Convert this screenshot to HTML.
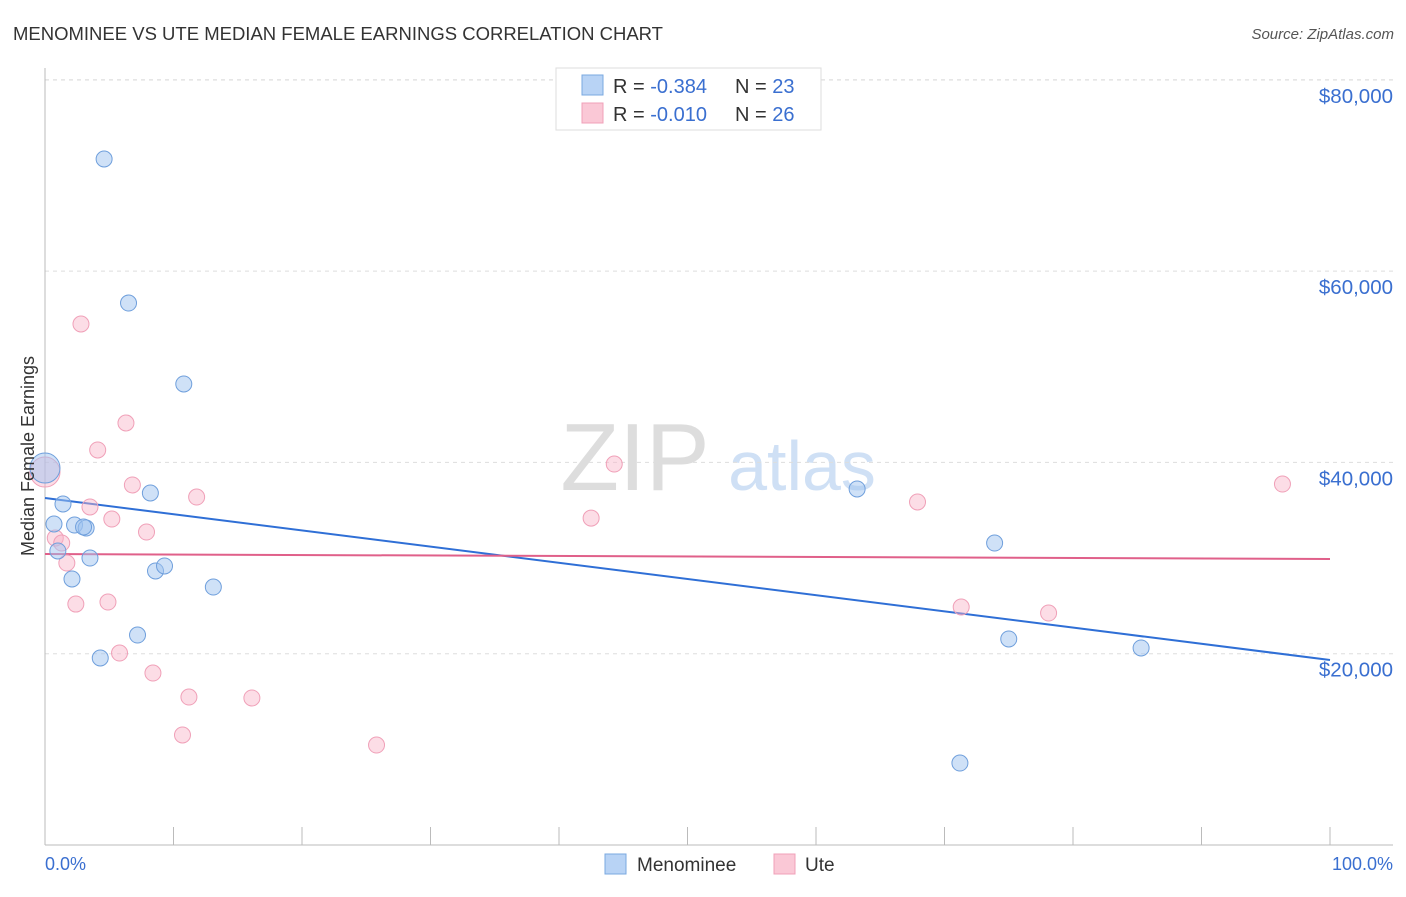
<!DOCTYPE html>
<html><head><meta charset="utf-8"><style>
body{margin:0;background:#fff;font-family:"Liberation Sans",sans-serif;}
svg text{font-family:"Liberation Sans",sans-serif;}
</style></head><body>
<svg id="chart" width="1406" height="892">
<text x="13" y="40" font-size="18.5" fill="#333">MENOMINEE VS UTE MEDIAN FEMALE EARNINGS CORRELATION CHART</text>
<text x="1394" y="39" font-size="15" fill="#555" font-style="italic" text-anchor="end">Source: ZipAtlas.com</text>
<g>
<text x="635" y="490" font-size="96" font-family="Liberation Serif" fill="#ddd" text-anchor="middle">ZIP</text>
<text x="802" y="490" font-size="70" fill="#cfe0f5" text-anchor="middle">atlas</text>
</g>
<g id="grid"></g>
<g id="axes"></g>
<g id="lines"></g>
<g id="points"></g>
<text transform="translate(34,456) rotate(-90)" font-size="18" fill="#333" text-anchor="middle">Median Female Earnings</text>
<text x="45" y="870" font-size="18" fill="#3a6fd0">0.0%</text>
<text x="1393" y="870" font-size="18" fill="#3a6fd0" text-anchor="end">100.0%</text>
<g>
<rect x="556" y="68" width="265" height="62" fill="#fff" stroke="#ddd"/>
<rect x="582" y="75" width="21" height="20" fill="#b8d3f5" stroke="#7aa8e0"/>
<rect x="582" y="103" width="21" height="20" fill="#fac8d6" stroke="#f0a0b8"/>
<text x="613" y="93" font-size="20" fill="#333">R = <tspan fill="#3a6fd0">-0.384</tspan><tspan x="735">N = </tspan><tspan fill="#3a6fd0">23</tspan></text>
<text x="613" y="121" font-size="20" fill="#333">R = <tspan fill="#3a6fd0">-0.010</tspan><tspan x="735">N = </tspan><tspan fill="#3a6fd0">26</tspan></text>
</g>
<g>
<rect x="605" y="854" width="21" height="20" fill="#b8d3f5" stroke="#7aa8e0"/>
<text x="637" y="871" font-size="19" fill="#333">Menominee</text>
<rect x="774" y="854" width="21" height="20" fill="#fac8d6" stroke="#f0a0b8"/>
<text x="805" y="871" font-size="19" fill="#333">Ute</text>
</g>
</svg>
<script>
const yTicks=[20000,40000,60000,80000];
const yTickLabels=["$20,000","$40,000","$60,000","$80,000"];
const xTicks=[0,10,20,30,40,50,60,70,80,90,100];
const menomineeX=[4.6,6.5,10.8,8.2,1.4,0.7,2.3,3.2,3.0,3.5,1.0,2.1,8.6,9.3,13.1,7.2,4.3,63.2,73.9,75.0,85.3,71.2,0];
const menomineeY=[71720,56660,48200,36800,35650,33560,33450,33140,33250,30000,30740,27810,28650,29170,26970,21950,19550,37220,31570,21540,20600,8570,39410];
const uteX=[2.8,6.3,4.1,6.8,11.8,3.5,5.2,7.9,0.8,1.3,1.7,2.4,4.9,5.8,8.4,11.2,16.1,10.7,25.8,44.3,42.5,67.9,71.3,78.1,96.3,0];
const uteY=[54470,44120,41300,37640,36380,35340,34080,32720,32090,31570,29480,25190,25400,20070,17980,15470,15370,11500,10450,39830,34180,35860,24880,24250,37740,38990];
const menomineeTrend=[36277,19341];
const uteTrend=[30423,29901];
const NS="http://www.w3.org/2000/svg";
function xs(p){return 45+p*12.85;}
function ys(v){return 845-v*191.3/20000;}
function mk(tag,attrs,parent){const e=document.createElementNS(NS,tag);for(const k in attrs)e.setAttribute(k,attrs[k]);document.getElementById(parent).appendChild(e);return e;}
yTicks.forEach((t,i)=>{
 const l=mk('line',{x1:45,x2:1393,y1:ys(t),y2:ys(t),stroke:'#ddd','stroke-dasharray':'4,4'},'grid');
 
 
 const tx=mk('text',{x:1393,y:ys(t)+23,'font-size':20.5,fill:'#3a6fd0','text-anchor':'end'},'grid');
 tx.textContent=yTickLabels[i];
 
 
});
const tg=mk('line',{x1:45,x2:1393,y1:80,y2:80,stroke:'#ddd','stroke-dasharray':'4,4'},'grid');


const xa=mk('line',{x1:45,x2:1393,y1:845,y2:845,stroke:'#bbb'},'axes');


const ya=mk('line',{x1:45,x2:45,y1:68,y2:845,stroke:'#bbb'},'axes');


xTicks.forEach(t=>{
 const l=mk('line',{x1:xs(t),x2:xs(t),y1:827,y2:845,stroke:'#bbb'},'axes');
 
 
});
const bl=mk('line',{x1:xs(0),x2:xs(100),y1:ys(menomineeTrend[0]),y2:ys(menomineeTrend[1]),stroke:'#2f6fd6','stroke-width':2},'lines');


const pl=mk('line',{x1:xs(0),x2:xs(100),y1:ys(uteTrend[0]),y2:ys(uteTrend[1]),stroke:'#e0608a','stroke-width':2},'lines');


function pts(X,Y,fill,stroke,name){
 X.forEach((x,i)=>{
  const r=(x===0)?15:8;
  const c=mk('circle',{cx:xs(x),cy:ys(Y[i]),r:r,fill:fill,stroke:stroke,'stroke-width':1},'points');
  
  
 });
}
pts(uteX,uteY,'rgba(248,180,200,0.45)','#f0a0b8','ute-point');
pts(menomineeX,menomineeY,'rgba(160,196,240,0.5)','#6f9fdc','menominee-point');
</script>
</body></html>
